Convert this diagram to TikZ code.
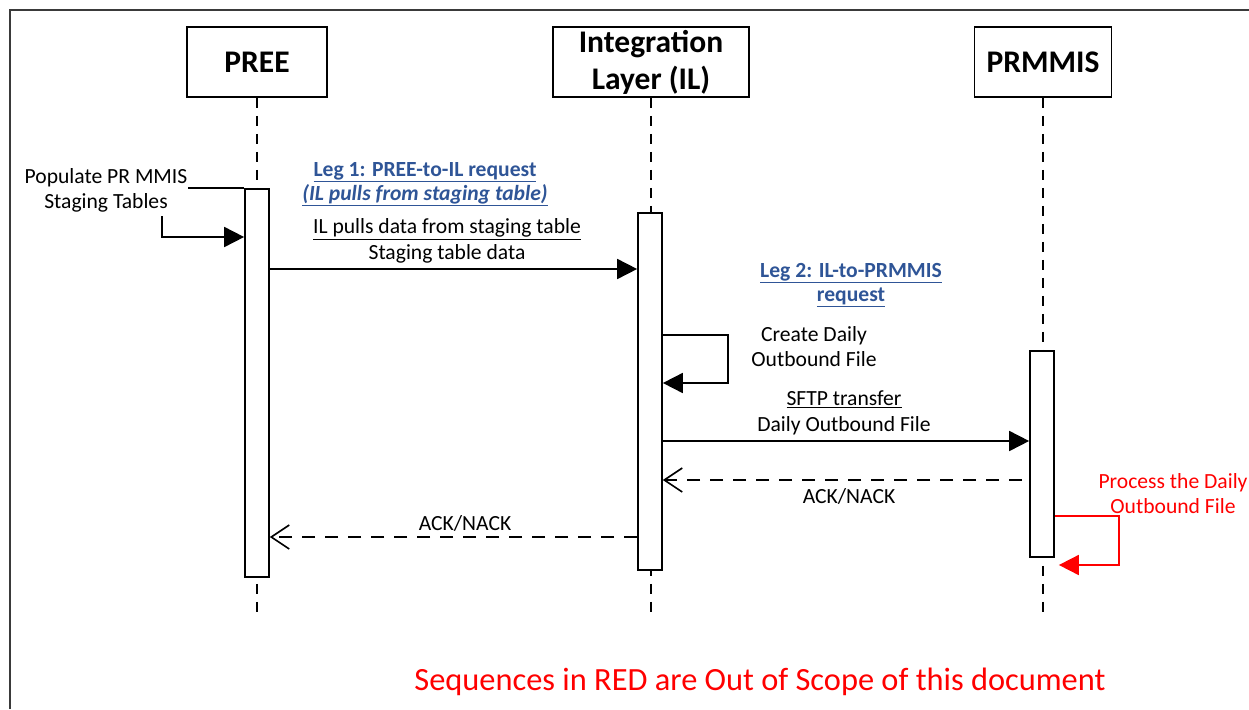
\documentclass[tikz,border=0pt]{standalone}
\usepackage{fontspec}
\setmainfont{Carlito}
\usetikzlibrary{arrows.meta,calc}
\definecolor{legblue}{HTML}{2F5597}
\definecolor{oosred}{HTML}{FF0000}
\definecolor{framegray}{HTML}{3A3A3A}

\begin{document}
\begin{tikzpicture}[x=1pt,y=-1pt,
  head/.style={draw,line width=1.9pt,inner sep=0pt,minimum height=70pt,align=center,
    font=\bfseries\fontsize{31.5}{37}\selectfont},
  act/.style={draw,line width=1.7pt,fill=white,minimum width=24pt,inner sep=0pt,anchor=north},
  life/.style={line width=1.5pt,dash pattern=on 10pt off 8pt},
  msg/.style={line width=1.8pt,-{Triangle[length=20pt,width=20pt]}},
  reply/.style={line width=1.6pt,dash pattern=on 13pt off 10pt,
    -{Straight Barb[length=18pt,width=24pt]}},
  lbl/.style={inner sep=0pt,align=center,font=\fontsize{21.6}{25}\selectfont},
  leg/.style={lbl,text=legblue,font=\bfseries\fontsize{21.6}{24}\selectfont},
  oos/.style={text=oosred}]
\useasboundingbox (0,0) rectangle (1249,709);

% outer frame
\draw[framegray,line width=1.4pt] (10,709) -- (10,10) -- (1249,10);

% lifeline heads
\node[head,minimum width=140pt] (pree) at (257,62) {PREE};
\node[head,minimum width=196pt] (il) at (651,62) {Integration\\Layer (IL)};
\node[head,minimum width=137pt] (prm) at (1043,62) {PRMMIS};

% lifelines
\coordinate (bot) at (0,615);
\draw[life] (pree.south) -- (pree.south |- bot);
\draw[life] (il.south) -- (il.south |- bot);
\draw[life] (prm.south) -- (prm.south |- bot);

% activation bars
\node[act,minimum height=388pt] (a1) at (257,188) {};
\node[act,minimum height=357pt] (a2) at (650,212) {};
\node[act,minimum height=206pt] (a3) at (1042,350) {};

% found message into PREE
\coordinate (pstart) at (188,188);
\coordinate (pdrop) at (162,216);
\coordinate (yp) at (0,237);
\draw[line width=1.8pt] (pstart) -- (a1.north west);
\draw[msg] (pdrop) |- (a1.west |- yp);
\node[lbl] (ptxt) at (106,190) {Populate PR MMIS\\Staging Tables};

% leg 1
\coordinate (y1) at (0,269);
\draw[msg] (a1.east |- y1) -- (a2.west |- y1);
\node[leg] (leg1) at (425,184) {\underline{Leg 1: PREE-to-IL request}\\
  \underline{\itshape (IL pulls from staging table)}};
\node[lbl] (m1txt) at (447,241) {\underline{IL pulls data from staging table}\\[1pt]Staging table data};

% leg 2
\node[leg] (leg2) at (851,285) {\underline{Leg 2: IL-to-PRMMIS}\\\underline{request}};

% self call on IL
\coordinate (s1) at (0,335);
\coordinate (s2) at (0,383);
\draw[msg] (a2.east |- s1) -- ++(65,0) |- (a2.east |- s2);
\node[lbl] (selftxt) at (814,347) {Create Daily\\Outbound File};

% SFTP transfer
\coordinate (y2) at (0,441);
\draw[msg] (a2.east |- y2) -- (a3.west |- y2);
\node[lbl] (m2txt) at (844,413) {\underline{SFTP transfer}\\[1pt]Daily Outbound File};

% ACK/NACK from PRMMIS
\coordinate (y3) at (0,480);
\draw[reply] ($(a3.west |- y3)+(-7,0)$) -- (a2.east |- y3);
\node[lbl] (ack1) at (849,496) {ACK/NACK};

% ACK/NACK to PREE
\coordinate (y4) at (0,537);
\draw[reply] (a2.west |- y4) -- (a1.east |- y4);
\node[lbl] (ack2) at (465,523) {ACK/NACK};

% out-of-scope processing on PRMMIS
\coordinate (r1) at (0,516);
\coordinate (r2) at (0,565);
\draw[msg,oosred] (a3.east |- r1) -- ++(64,0) |- ($(a3.east |- r2)+(4,0)$);
\node[lbl,oos] (proc) at (1173,494) {Process the Daily\\Outbound File};

% note
\node[inner sep=0pt,oos,font=\fontsize{32.4}{37}\selectfont] (note) at (760,682)
  {Sequences in RED are Out of Scope of this document};
\end{tikzpicture}
\end{document}
